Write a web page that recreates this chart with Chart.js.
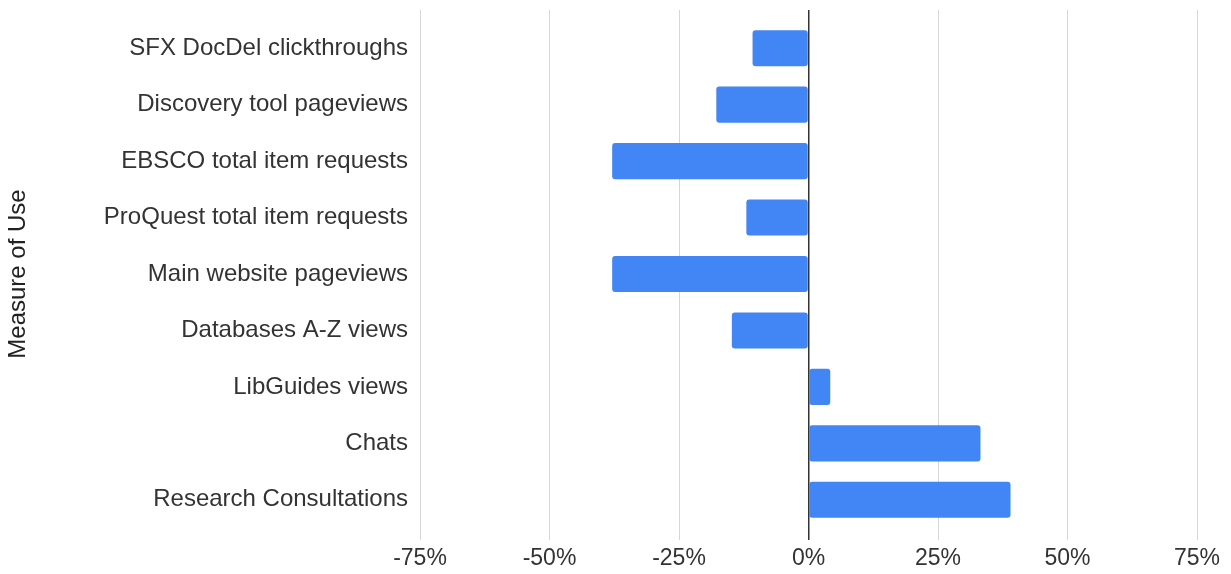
<!DOCTYPE html>
<html lang="en">
<head>
  <meta charset="UTF-8" />
  <title>Change in Measure of Use</title>
  <script src="https://cdn.jsdelivr.net/npm/chart.js"></script>
  <style>
    html, body { margin: 0; padding: 0; background: #fff; }
    #wrap { width: 1231px; height: 574px; }
  </style>
</head>
<body>
  <div id="wrap"><canvas id="useChart" width="1231" height="574"></canvas></div>

  <script>
    // Measures of use (top to bottom)
    const measures = [
      "SFX DocDel clickthroughs",
      "Discovery tool pageviews",
      "EBSCO total item requests",
      "ProQuest total item requests",
      "Main website pageviews",
      "Databases A-Z views",
      "LibGuides views",
      "Chats",
      "Research Consultations"
    ];

    // Percent change
    const changePct = [-10.8, -17.8, -37.9, -12.0, -37.9, -14.8, 4.2, 33.2, 39.0];

    const xTicks = [-75, -50, -25, 0, 25, 50, 75];

    const labelFont = { family: "'Liberation Sans', Arial, sans-serif", size: 24 };
    const tickFont = { family: "'Liberation Sans', Arial, sans-serif", size: 23 };

    const gridColor = (c) => (c.tick && c.tick.value === 0 ? "#333333" : "#d6d6d6");
    const gridWidth = (c) => (c.tick && c.tick.value === 0 ? 1.5 : 1);

    const ctx = document.getElementById("useChart").getContext("2d");

    new Chart(ctx, {
      type: "bar",
      data: {
        labels: measures,
        datasets: [
          {
            label: "Change",
            data: changePct,
            backgroundColor: "#4285f4",
            borderRadius: 3,
            borderSkipped: false,
            barPercentage: 0.64,
            categoryPercentage: 1.0
          }
        ]
      },
      options: {
        indexAxis: "y",
        responsive: false,
        animation: false,
        layout: { padding: { top: 0, right: 34, bottom: 0, left: 0 } },
        plugins: {
          legend: { display: false },
          tooltip: { enabled: false }
        },
        scales: {
          x: {
            min: -75,
            max: 75,
            afterBuildTicks: (scale) => {
              scale.ticks = xTicks.map((v) => ({ value: v }));
            },
            afterFit: (scale) => { scale.height = 46; },
            border: { display: false },
            grid: { color: gridColor, lineWidth: gridWidth, tickLength: 12 },
            ticks: {
              padding: 5,
              color: "#333",
              font: tickFont,
              callback: (v) => v + "%"
            }
          },
          // top axis only adds the short tick stubs above the plot
          xTop: {
            position: "top",
            min: -75,
            max: 75,
            afterBuildTicks: (scale) => {
              scale.ticks = xTicks.map((v) => ({ value: v }));
            },
            afterFit: (scale) => { scale.height = 20; },
            border: { display: false },
            grid: { drawOnChartArea: false, color: gridColor, lineWidth: gridWidth, tickLength: 10 },
            ticks: { display: false }
          },
          y: {
            afterFit: (scale) => { scale.width = 420; },
            border: { display: false },
            grid: { display: false },
            ticks: {
              padding: 4,
              color: "#333",
              font: labelFont
            },
            title: {
              display: true,
              text: "Measure of Use",
              color: "#222",
              font: labelFont,
              padding: { top: 4, bottom: 0 }
            }
          }
        }
      }
    });
  </script>
</body>
</html>
